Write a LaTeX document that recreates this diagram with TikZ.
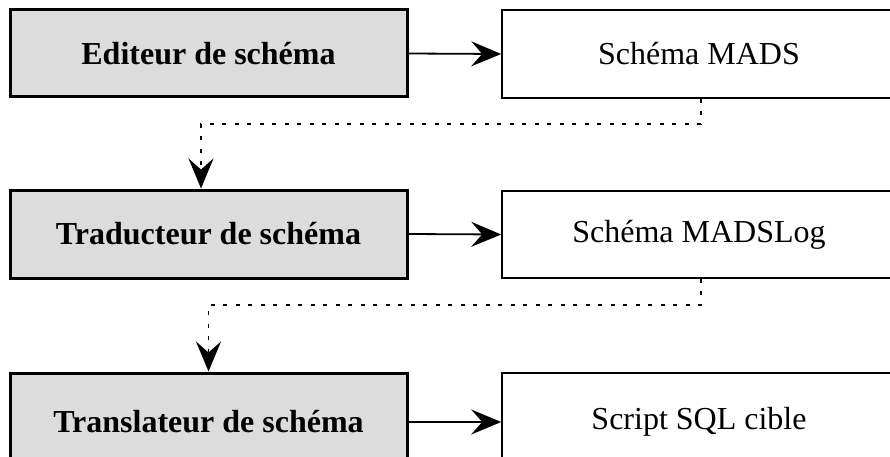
\documentclass[tikz,border=0pt]{standalone}
\usepackage{fontspec}
\setmainfont{Liberation Serif}
\usetikzlibrary{arrows.meta}
\definecolor{boxgray}{HTML}{DCDCDC}
\tikzset{
  tool/.style={draw=black, line width=3pt, fill=boxgray, minimum width=397pt, inner sep=0pt,
    font=\fontsize{32}{36}\selectfont\bfseries},
  artefact/.style={draw=black, line width=1.6pt, fill=white, minimum width=394pt, inner sep=0pt,
    font=\fontsize{32}{36}\selectfont},
  flow/.style={line width=1.8pt, -{Stealth[length=30pt, width=25pt, inset=11pt]}},
  derive/.style={line width=1.8pt, dash pattern=on 4pt off 8.5pt, -{Stealth[length=30pt, width=25pt, inset=11pt]}}
}
\begin{document}
\begin{tikzpicture}[x=1pt, y=-1pt]
\useasboundingbox (0,0) rectangle (890,457);
\clip (0,0) rectangle (890,457);
\fill[white] (0,0) rectangle (890,457);
\node[tool, minimum height=87pt] (l1) at (208.5,53.5) {Editeur de schéma};
\node[artefact, minimum height=88pt] (r1) at (699,54) {Schéma MADS};
\node[tool, minimum height=88pt] (l2) at (208.5,234) {Traducteur de schéma};
\node[artefact, minimum height=87pt] (r2) at (699,234.5) {Schéma MADSLog};
\node[tool, minimum height=98pt] (l3) at (208.5,422) {Translateur de schéma};
\node[artefact, minimum height=98pt] (r3) at (699,422) {Script SQL cible};
\draw[flow] (l1.east) -- (r1.west);
\draw[flow] (l2.east) -- (r2.west);
\draw[flow] (l3.east) -- (r3.west);
\draw[derive] ([xshift=2pt]r1.south) -- ++(0,25) -| ([xshift=-7.5pt]l2.north);
\draw[derive] ([xshift=2pt]r2.south) -- ++(0,26) -| (l3.north);
\end{tikzpicture}
\end{document}
